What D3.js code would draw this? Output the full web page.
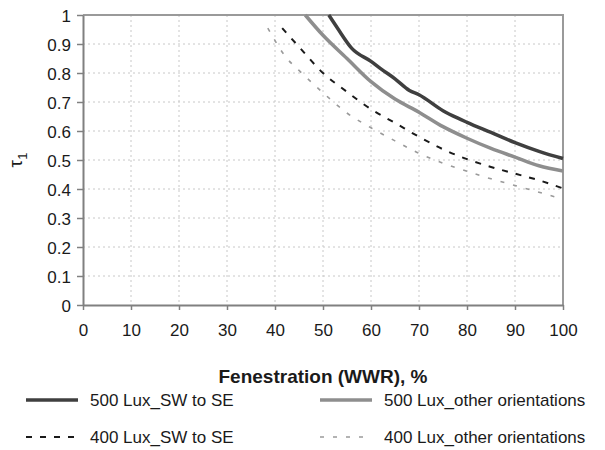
<!DOCTYPE html>
<html>
<head>
<meta charset="utf-8">
<script src="https://cdn.jsdelivr.net/npm/d3@7"></script>
<style>
  body { margin: 0; background: #fff; }
  svg { font-family: "Liberation Sans", Arial, sans-serif; }
</style>
</head>
<body>
<div id="chart"></div>
<script>
// valores (WWR em %, tau1)
const xTicks = [0, 10, 20, 30, 40, 50, 60, 70, 80, 90, 100];
const yTicks = [0, 0.1, 0.2, 0.3, 0.4, 0.5, 0.6, 0.7, 0.8, 0.9, 1];

const wwr500SW = [51.2, 53, 56, 60, 62, 65, 68, 70, 75, 78, 80, 85, 90, 95, 100];
const tau500SW = [1.0, 0.955, 0.885, 0.84, 0.815, 0.78, 0.74, 0.725, 0.67, 0.645, 0.63, 0.595, 0.56, 0.53, 0.505];

const wwr500Other = [46.3, 50, 55, 60, 65, 70, 75, 80, 85, 90, 95, 100];
const tau500Other = [1.0, 0.93, 0.85, 0.77, 0.71, 0.665, 0.615, 0.575, 0.54, 0.51, 0.48, 0.462];

const wwr400SW = [41.5, 45, 50, 55, 60, 65, 70, 75, 80, 85, 90, 95, 100];
const tau400SW = [0.955, 0.89, 0.80, 0.735, 0.675, 0.628, 0.58, 0.537, 0.503, 0.476, 0.453, 0.43, 0.402];

const wwr400Other = [38.5, 42.5, 45, 50, 55, 60, 65, 70, 75, 80, 85, 90, 95, 100];
const tau400Other = [0.955, 0.85, 0.809, 0.732, 0.662, 0.611, 0.566, 0.523, 0.489, 0.461, 0.435, 0.412, 0.389, 0.364];

const seriesNames = ["500 Lux_SW to SE", "500 Lux_other orientations", "400 Lux_SW to SE", "400 Lux_other orientations"];

// estilos de cada série
const estilos = [
  { color: "#3f3f3f", width: 3.5, dash: null },
  { color: "#8e8e8e", width: 3.5, dash: null },
  { color: "#1a1a1a", width: 2, dash: "6,8" },
  { color: "#9a9a9a", width: 1.6, dash: "4,9" }
];

const series = [
  wwr500SW.map((x, i) => ({ x, y: tau500SW[i] })),
  wwr500Other.map((x, i) => ({ x, y: tau500Other[i] })),
  wwr400SW.map((x, i) => ({ x, y: tau400SW[i] })),
  wwr400Other.map((x, i) => ({ x, y: tau400Other[i] }))
];

const W = 605, H = 450;
const margin = { top: 15, right: 42, bottom: 145, left: 83 };
const innerW = W - margin.left - margin.right;
const innerH = H - margin.top - margin.bottom;

const svg = d3.select("#chart").append("svg")
  .attr("width", W)
  .attr("height", H);

const g = svg.append("g")
  .attr("transform", `translate(${margin.left},${margin.top})`);

const x = d3.scaleLinear().domain([0, 100]).range([0, innerW]);
const y = d3.scaleLinear().domain([0, 1]).range([innerH, 0]);

// grade pontilhada
g.append("g").selectAll("line")
  .data(xTicks.filter(t => t > 0 && t < 100))
  .enter().append("line")
  .attr("x1", d => x(d)).attr("x2", d => x(d))
  .attr("y1", 0).attr("y2", innerH)
  .attr("stroke", "#c8c8c8")
  .attr("stroke-dasharray", "2,3");

g.append("g").selectAll("line")
  .data(yTicks.filter(t => t > 0 && t < 1))
  .enter().append("line")
  .attr("x1", 0).attr("x2", innerW)
  .attr("y1", d => y(d)).attr("y2", d => y(d))
  .attr("stroke", "#c8c8c8")
  .attr("stroke-dasharray", "2,3");

// borda superior e direita
g.append("path")
  .attr("d", `M0,0H${innerW}V${innerH}`)
  .attr("fill", "none")
  .attr("stroke", "#9a9a9a")
  .attr("stroke-width", 2);

// eixos
const xAxis = g.append("g")
  .attr("transform", `translate(0,${innerH})`)
  .call(d3.axisBottom(x).tickValues(xTicks).tickSize(5).tickSizeOuter(0).tickPadding(14));

const yAxis = g.append("g")
  .call(d3.axisLeft(y).tickValues(yTicks).tickFormat(d => d3.format("")(+d.toFixed(1))).tickSize(6).tickSizeOuter(0).tickPadding(6));

[xAxis, yAxis].forEach(ax => {
  ax.select(".domain").attr("stroke", "#808080").attr("stroke-width", 2);
  ax.selectAll(".tick line").attr("stroke", "#808080").attr("stroke-width", 1.5);
  ax.selectAll(".tick text")
    .attr("fill", "#1a1a1a")
    .style("font-size", "17px")
    .style("font-family", "'Liberation Sans', Arial, sans-serif");
});
yAxis.selectAll(".tick text").attr("dy", "0.36em");

// curvas
const line = d3.line()
  .x(d => x(d.x))
  .y(d => y(d.y))
  .curve(d3.curveMonotoneX);

series.forEach((s, i) => {
  g.append("path")
    .datum(s)
    .attr("fill", "none")
    .attr("stroke", estilos[i].color)
    .attr("stroke-width", estilos[i].width)
    .attr("stroke-dasharray", estilos[i].dash)
    .attr("d", line);
});

// títulos dos eixos
svg.append("text")
  .attr("x", margin.left + innerW / 2)
  .attr("y", 383)
  .attr("text-anchor", "middle")
  .style("font-size", "19px")
  .style("font-weight", "bold")
  .attr("fill", "#1a1a1a")
  .text("Fenestration (WWR), %");

const yLabel = svg.append("text")
  .attr("transform", `translate(22,${margin.top + innerH / 2}) rotate(-90)`)
  .attr("text-anchor", "middle")
  .style("font-size", "19px")
  .attr("fill", "#1a1a1a");
yLabel.append("tspan").text("τ");
yLabel.append("tspan").attr("dy", 5).style("font-size", "13px").text("1");

// legenda
const legX = [26, 320];
const legY = [400, 437];
const legend = svg.append("g");
seriesNames.forEach((nome, i) => {
  const lx = legX[i % 2];
  const ly = legY[Math.floor(i / 2)];
  legend.append("line")
    .attr("x1", lx).attr("x2", lx + 52)
    .attr("y1", ly).attr("y2", ly)
    .attr("stroke", estilos[i].color)
    .attr("stroke-width", estilos[i].width)
    .attr("stroke-dasharray", estilos[i].dash);
  legend.append("text")
    .attr("x", lx + 64)
    .attr("y", ly)
    .attr("dy", "0.36em")
    .style("font-size", "17px")
    .attr("fill", "#1a1a1a")
    .text(nome);
});
</script>
</body>
</html>
